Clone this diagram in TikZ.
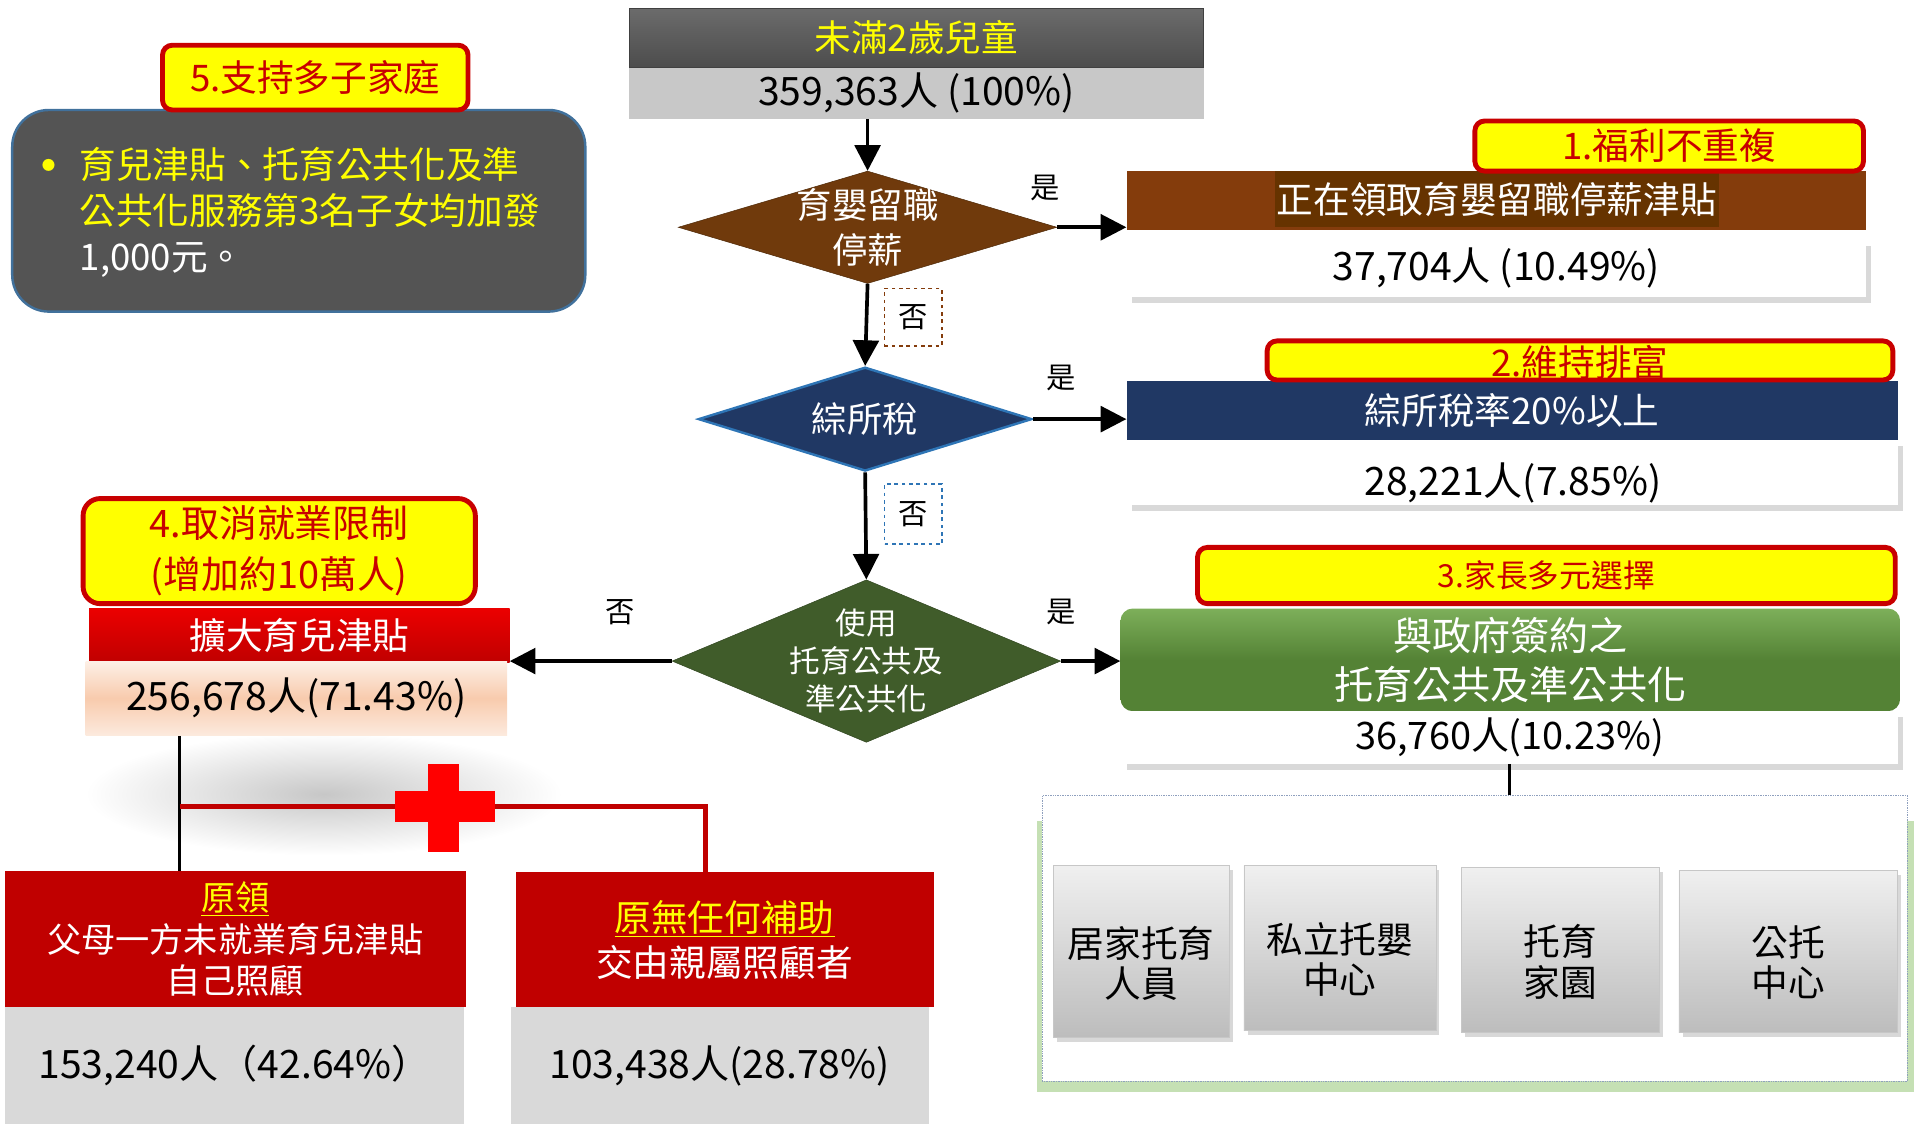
\documentclass[tikz,border=0pt]{standalone}
\usepackage{fontspec}
\setmainfont{Noto Sans CJK TC}
\usetikzlibrary{shapes.geometric,arrows.meta,positioning,shadows}

\definecolor{tagred}{RGB}{200,0,0}
\definecolor{tagyellow}{RGB}{255,255,0}
\definecolor{notegray}{RGB}{84,84,84}
\definecolor{noteblue}{RGB}{65,113,156}
\definecolor{kidslight}{RGB}{200,200,200}
\definecolor{leavebrown}{RGB}{112,58,12}
\definecolor{leavebox}{RGB}{132,60,12}
\definecolor{leavepatch}{RGB}{102,51,0}
\definecolor{taxnavy}{RGB}{32,56,100}
\definecolor{taxblue}{RGB}{46,117,182}
\definecolor{usegreen}{RGB}{64,92,42}
\definecolor{pubgreen}{RGB}{84,130,53}
\definecolor{pubtop}{RGB}{125,175,90}
\definecolor{barred}{RGB}{235,0,0}
\definecolor{darkred}{RGB}{192,0,0}
\definecolor{peach}{RGB}{248,203,173}
\definecolor{numgray}{RGB}{217,217,217}
\definecolor{framegreen}{RGB}{197,224,180}
\definecolor{framedot}{RGB}{143,160,190}

\newcommand\fsz[2]{\fontsize{#1}{#2}\selectfont}

\begin{document}
\begin{tikzpicture}[x=1pt,y=-1pt,>={Triangle[length=21pt,width=21pt]},
    tag/.style={draw=tagred,line width=4pt,fill=tagyellow,text=tagred,rounded corners=8pt,inner sep=0pt,align=center,font=\fsz{30}{42}},
    bar/.style={inner sep=0pt,align=center,text=white,font=\fsz{30}{40}},
    numbox/.style={fill=white,inner sep=0pt,font=\fsz{32}{38},drop shadow={opacity=.3,shadow xshift=4pt,shadow yshift=-5pt}},
    grayfoot/.style={fill=numgray,inner sep=0pt,font=\fsz{32}{38}},
    kind/.style={top color=black!6,bottom color=black!26,draw=black!22,inner sep=0pt,align=center,font=\fsz{30}{33},drop shadow={opacity=.3,shadow xshift=3pt,shadow yshift=-4pt}},
    ask/.style={diamond,inner sep=0pt},
    asktext/.style={text=white,align=center,inner sep=0pt},
    yn/.style={inner sep=0pt,font=\fsz{24}{28}}]
\useasboundingbox (0,0) rectangle (1568,920.6);

\shade[inner color=black!22,outer color=white] (265,650) ellipse (195 and 50);

% left note
\node[fill=notegray,draw=noteblue,line width=2pt,rounded corners=30pt,minimum width=469pt,minimum height=165pt] (note) at (244.5,172.5) {};
\node[anchor=west,align=left,text=tagyellow,font=\fsz{30}{37.5},inner sep=0pt] (notetext) at (34,174)
  {\makebox[31pt][l]{\raisebox{7pt}{\fsz{11}{11}●}}育兒津貼、托育公共化及準\\\hspace*{31pt}公共化服務第3名子女均加發\\\hspace*{31pt}\textcolor{white}{1,000元。}};
\node[tag,minimum width=250pt,minimum height=53pt] (tag5) at (258,63.5) {5.支持多子家庭};

% top
\node[bar,top color=black!58,bottom color=black!70,draw=black!75,text=tagyellow,minimum width=470pt,minimum height=48pt] (kids) at (750,31) {未滿2歲兒童};
\node[grayfoot,fill=kidslight,minimum width=470pt,minimum height=42pt,below=0pt of kids] (kidsnum) {359,363人 (100\%)};

% questions
\node[ask,fill=leavebrown,draw=leavebrown!70!black,minimum width=310pt,minimum height=92pt] (q1) at (710,186) {};
\node[asktext,font=\fsz{29}{37}] (q1text) at (q1) {育嬰留職\\停薪};
\node[ask,fill=taxnavy,draw=taxblue,line width=2pt,minimum width=273pt,minimum height=85pt] (q2) at (708,343) {};
\node[asktext,font=\fsz{29}{36}] (q2text) at (q2) {綜所稅};
\node[ask,fill=usegreen,draw=usegreen!75!black,minimum width=318pt,minimum height=133pt] (q3) at (709,541) {};
\node[asktext,font=\fsz{25}{31}] (q3text) at (q3) {使用\\托育公共及\\準公共化};

% right column
\node[fill=leavebox,minimum width=605pt,minimum height=48pt,inner sep=0pt] (leave) at (1224.5,164) {};
\node[fill=leavepatch,text=white,font=\fsz{30}{36},inner xsep=2pt,inner ysep=0pt,minimum height=46pt] (leavetext) at (1225,163) {正在領取育嬰留職停薪津貼};
\node[numbox,minimum width=605pt,minimum height=47pt] (leavenum) at (1224.5,219.5) {37,704人 (10.49\%)};
\node[tag,minimum width=318pt,minimum height=41pt] (tag1) at (1366,119.5) {1.福利不重複};

\node[bar,fill=taxnavy,minimum width=631pt,minimum height=48pt] (tax) at (1237.5,336) {綜所稅率20\%以上};
\node[numbox,minimum width=631pt,minimum height=53pt] (taxnum) at (1237.5,386.5) {};
\node[inner sep=0pt,font=\fsz{32}{38}] (taxnumtext) at (1238,395) {28,221人(7.85\%)};
\node[tag,text height=27pt,text depth=1pt,minimum width=512pt,minimum height=32pt] (tag2) at (1293,295) {2.維持排富};

\node[tag,font=\fsz{26}{32},minimum width=571pt,minimum height=46pt] (tag3) at (1265.5,471) {3.家長多元選擇};
\node[bar,top color=pubtop,bottom color=pubgreen,middle color=pubgreen,rounded corners=10pt,font=\fsz{32}{40},minimum width=638pt,minimum height=84pt] (pub) at (1236,540) {與政府簽約之\\托育公共及準公共化};
\node[numbox,font=\fsz{31}{36},minimum width=635pt,minimum height=43pt] (pubnum) at (1235.5,603.5) {36,760人(10.23\%)};

\fill[framegreen] (849,672) rectangle (1566,894);
\node[draw=framedot,densely dotted,fill=white,minimum width=708pt,minimum height=234pt,inner sep=0pt] (frame) at (1207,768) {};
\node[kind,minimum width=144pt,minimum height=141pt] (c1) at (934,778.5) {\rule{0pt}{45pt}居家托育\\人員};
\node[kind,minimum width=157pt,minimum height=135pt] (c2) at (1096.5,775.5) {\rule{0pt}{45pt}私立托嬰\\中心};
\node[kind,minimum width=162pt,minimum height=135pt] (c3) at (1277,777.5) {\rule{0pt}{45pt}托育\\家園};
\node[kind,minimum width=179pt,minimum height=133pt] (c4) at (1463.5,778.5) {\rule{0pt}{44pt}公托\\中心};
\draw[line width=2.5pt] (pubnum.south) -- (pubnum.south |- frame.north);

% left column
\node[tag,rounded corners=14pt,font=\fsz{31}{42},minimum width=321pt,minimum height=86pt] (tag4) at (228.5,451) {4.取消就業限制\\(增加約10萬人)};
\node[bar,top color=barred,bottom color=darkred,minimum width=344pt,minimum height=44pt] (more) at (245,520) {擴大育兒津貼};
\node[inner sep=0pt,top color=peach!30,bottom color=peach!40,middle color=peach,font=\fsz{32}{38},minimum width=345pt,minimum height=61pt] (morenum) at (242.5,571.5) {256,678人(71.43\%)};

\node[bar,fill=darkred,font=\fsz{28}{34},minimum width=377pt,minimum height=111pt] (self) at (192.5,768.5) {\textcolor{tagyellow}{\underline{原領}}\\父母一方未就業育兒津貼\\自己照顧};
\node[grayfoot,minimum width=376pt,minimum height=96pt] (selfnum) at (192,872) {153,240人（42.64\%）};
\node[bar,fill=darkred,font=\fsz{30}{37},minimum width=342pt,minimum height=110pt] (kin) at (593,769) {\textcolor{tagyellow}{\underline{原無任何補助}}\\交由親屬照顧者};
\node[grayfoot,minimum width=342pt,minimum height=96pt] (kinnum) at (589,872) {103,438人(28.78\%)};

\coordinate (split) at (147,660);
\coordinate (join) at (577,660);
\draw[line width=2.5pt] (split |- morenum.south) -- (split |- self.north);
\draw[darkred,line width=4pt] (split) -- (join) -- (join |- kin.north);
\fill[red] (350,625) rectangle (376,697);
\fill[red] (323,647) rectangle (405,673);

\begin{scope}[every edge/.style={draw=black,line width=3pt}]
  \path [->] (q1.north |- kidsnum.south) edge (q1.north);
  \path [->] (q1.east) edge node[yn,name=yes1,pos=0,above=20pt,xshift=-10pt] {是} (q1.east -| leave.west);
  \path [->] (q1.south) edge node[yn,name=no1,pos=.41,right=14pt,draw=leavebox,dashed,line width=1.2pt,minimum width=47pt,minimum height=47pt] {否} (q2.north);
  \path [->] (q2.east) edge node[yn,name=yes2,pos=.3,above=22pt] {是} (q2.east -| tax.west);
  \path [->] (q2.south) edge node[yn,name=no2,pos=.39,right=15pt,draw=taxblue,dashed,line width=1.2pt,minimum width=47pt,minimum height=49pt] {否} (q3.north);
  \path [->] (q3.east) edge node[yn,name=yes3,pos=0,above=28pt] {是} (q3.east -| pub.west);
  \path [->] (q3.west) edge node[yn,name=no3,pos=.32,above=28pt] {否} (q3.west -| more.south east);
\end{scope}
\end{tikzpicture}
\end{document}
